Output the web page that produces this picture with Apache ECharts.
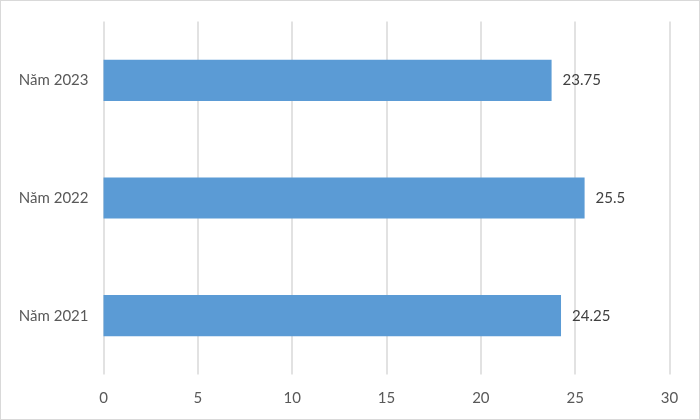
<!DOCTYPE html>
<html><head><meta charset="utf-8">
<script src="https://cdn.jsdelivr.net/npm/echarts@6/dist/echarts.min.js"></script>
<style>html,body{margin:0;padding:0;background:#fff}#c{width:700px;height:420px;box-sizing:border-box;border:1.5px solid #d9d9d9}</style>
</head><body><div id="c"></div>
<script>
var categories = ['Năm 2021', 'Năm 2022', 'Năm 2023'];
var values = [24.25, 25.5, 23.75];
var xTicks = [0, 5, 10, 15, 20, 25, 30];
var chart = echarts.init(document.getElementById('c'));
var font = 'Lato, "Open Sans", sans-serif';
chart.setOption({
  animation: false,
  grid: {left: 102.5, right: 29.5, top: 20.5, bottom: 44.5, containLabel: false},
  xAxis: {
    type: 'value', min: xTicks[0], max: xTicks[xTicks.length-1], interval: 5,
    axisLine: {show: false}, axisTick: {show: false},
    splitLine: {lineStyle: {color: '#d9d9d9', width: 1.5}},
    axisLabel: {color: '#595959', fontSize: 15, fontFamily: font, margin: 16}
  },
  yAxis: {
    type: 'category', data: categories,
    axisLine: {show: false}, axisTick: {show: false},
    axisLabel: {color: '#595959', fontSize: 15, fontFamily: font, margin: 15}
  },
  series: [{
    type: 'bar', data: values, barWidth: '35%',
    itemStyle: {color: '#5b9bd5'},
    label: {show: true, position: 'right', distance: 11, color: '#404040', fontSize: 15, fontFamily: font}
  }]
});
</script></body></html>
